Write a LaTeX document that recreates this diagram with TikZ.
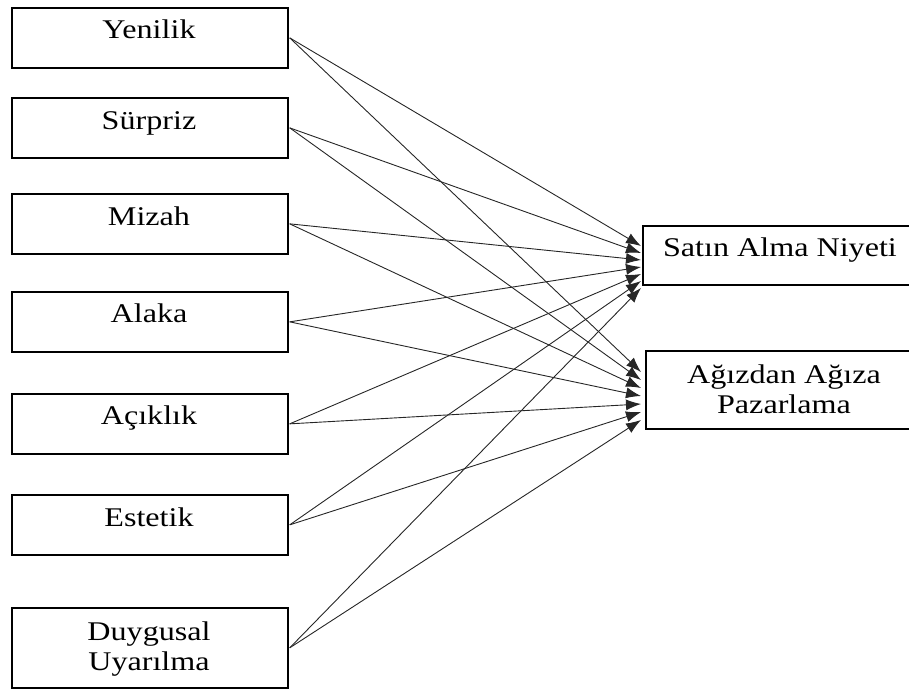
\documentclass[tikz,border=0pt]{standalone}
\usepackage{fontspec}
\setmainfont{Liberation Serif}[FakeStretch=1.19]
\usetikzlibrary{arrows.meta}
\begin{document}
\begin{tikzpicture}[x=1pt,y=-1pt,
  box/.style={draw=black,line width=1.7pt,fill=white,inner sep=0pt,anchor=north west},
  lbox/.style={box,minimum width=276pt,minimum height=60pt},
  lbl/.style={anchor=base,inner sep=0pt,font=\fontsize{27}{30}\selectfont},
  conn/.style={draw=black!85,line width=0.9pt,-{Latex[length=15pt,width=11pt]}}]
\useasboundingbox (0,0) rectangle (909,688);
\clip (0,0) rectangle (909,688);
% left boxes
\node[lbox] (b1) at (11,7) {};
\node[lbox] (b2) at (11,97) {};
\node[lbox] (b3) at (11,193) {};
\node[lbox] (b4) at (11,291) {};
\node[lbox] (b5) at (11,393) {};
\node[lbox] (b6) at (11,494) {};
\node[box,minimum width=276pt,minimum height=80pt] (b7) at (11,607) {};
% right boxes
\node[box,minimum width=280pt,minimum height=59pt] (r1) at (642,225) {};
\node[box,minimum width=280pt,minimum height=78pt] (r2) at (645,350) {};
% labels
\node[lbl] (t1) at (149,38) {Yenilik};
\node[lbl] (t2) at (149,129) {Sürpriz};
\node[lbl] (t3) at (149,225) {Mizah};
\node[lbl] (t4) at (149,322) {Alaka};
\node[lbl] (t5) at (149,424) {Açıklık};
\node[lbl] (t6) at (149,526) {Estetik};
\node[lbl] (t7a) at (149,640) {Duygusal};
\node[lbl] (t7b) at (149,670) {Uyarılma};
\node[lbl] (u1) at (780,256) {Satın Alma Niyeti};
\node[lbl] (u2a) at (784,383) {Ağızdan Ağıza};
\node[lbl] (u2b) at (784,413) {Pazarlama};
% arrow targets
\coordinate (s1) at (641,246);
\coordinate (s2) at (641,253);
\coordinate (s3) at (641,260);
\coordinate (s4) at (641,267);
\coordinate (s5) at (641,274);
\coordinate (s6) at (641,281);
\coordinate (s7) at (641,288);
\coordinate (a1) at (641,372);
\coordinate (a2) at (641,380);
\coordinate (a3) at (641,388);
\coordinate (a4) at (641,396);
\coordinate (a5) at (641,404);
\coordinate (a6) at (641,412);
\coordinate (a7) at (641,420);
% connectors
\foreach \i in {1,...,7}{
  \draw[conn] ([xshift=1pt]b\i.east) -- (s\i);
  \draw[conn] ([xshift=1pt]b\i.east) -- (a\i);
}
\end{tikzpicture}
\end{document}
